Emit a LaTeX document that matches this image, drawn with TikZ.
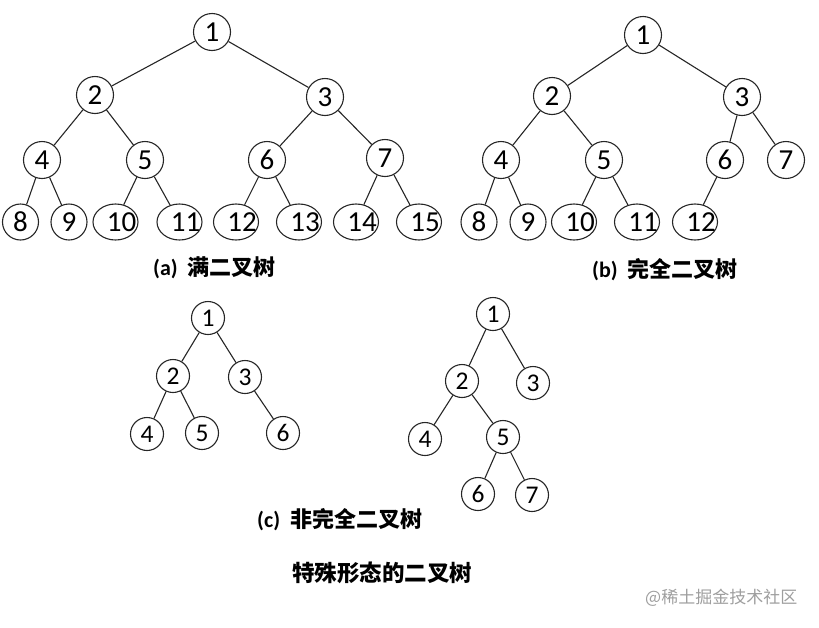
\documentclass[tikz,border=0pt]{standalone}
\usepackage{fontspec}
\setmainfont{Carlito}
\newfontfamily\cjkfont{Noto Sans CJK SC}
\usetikzlibrary{shapes.geometric}
\tikzset{
  edge/.style={draw=black!85, line width=1.1pt},
  big/.style={circle, draw=black!85, line width=1.1pt, minimum size=37pt, inner sep=0pt, font=\fontsize{29}{29}\selectfont},
  wide/.style={ellipse, draw=black!85, line width=1.1pt, minimum width=45pt, minimum height=36pt, inner sep=0pt,
    label={[font=\fontsize{29}{29}\selectfont, xshift=6pt]center:#1}},
  small/.style={circle, draw=black!85, line width=1.1pt, minimum size=33pt, inner sep=0pt, font=\fontsize{25.5}{25.5}\selectfont},
  captext/.style={anchor=west, inner sep=0pt, font=\fontsize{22}{22}\selectfont\bfseries},
}
\begin{document}
\begin{tikzpicture}[x=1pt, y=-1pt]
\useasboundingbox (0,0) rectangle (819,627);
% (a) full binary tree
\node[big] (a1) at (212,32) {1};
\node[big] (a2) at (95,95) {2};
\node[big] (a3) at (325,97) {3};
\node[big] (a4) at (42,160) {4};
\node[big] (a5) at (145,160) {5};
\node[big] (a6) at (267,160) {6};
\node[big] (a7) at (385,158) {7};
\node[big, minimum size=36pt] (a8) at (20.5,222) {8};
\node[big, minimum size=36pt] (a9) at (69,222) {9};
\node[wide=10] (a10) at (115.5,222) {};
\node[wide=11] (a11) at (179.5,222) {};
\node[wide=12] (a12) at (236,222) {};
\node[wide=13] (a13) at (299,222) {};
\node[wide=14] (a14) at (356,222) {};
\node[wide=15] (a15) at (419,222) {};
\draw[edge] (a1) -- (a2); \draw[edge] (a1) -- (a3);
\draw[edge] (a2) -- (a4); \draw[edge] (a2) -- (a5);
\draw[edge] (a3) -- (a6); \draw[edge] (a3) -- (a7);
\draw[edge] (a4) -- (a8); \draw[edge] (a4) -- (a9);
\draw[edge] (a5) -- (a10); \draw[edge] (a5) -- (a11);
\draw[edge] (a6) -- (a12); \draw[edge] (a6) -- (a13);
\draw[edge] (a7) -- (a14); \draw[edge] (a7) -- (a15);
\node[captext] (capa) at (153,268) {(a)\hspace{10pt}{\cjkfont 满二叉树}};
% (b) complete binary tree
\node[big] (b1) at (643,35) {1};
\node[big] (b2) at (552,96) {2};
\node[big] (b3) at (742,97) {3};
\node[big] (b4) at (501,160) {4};
\node[big] (b5) at (604,160) {5};
\node[big] (b6) at (725,160) {6};
\node[big] (b7) at (786,160) {7};
\node[big, minimum size=36pt] (b8) at (479,222) {8};
\node[big, minimum size=36pt] (b9) at (528,222) {9};
\node[wide=10] (b10) at (574,222) {};
\node[wide=11] (b11) at (637,222) {};
\node[wide=12] (b12) at (695,222) {};
\draw[edge] (b1) -- (b2); \draw[edge] (b1) -- (b3);
\draw[edge] (b2) -- (b4); \draw[edge] (b2) -- (b5);
\draw[edge] (b3) -- (b6); \draw[edge] (b3) -- (b7);
\draw[edge] (b4) -- (b8); \draw[edge] (b4) -- (b9);
\draw[edge] (b5) -- (b10); \draw[edge] (b5) -- (b11);
\draw[edge] (b6) -- (b12);
\node[captext] (capb) at (592,270) {(b)\hspace{10pt}{\cjkfont 完全二叉树}};
% (c) non-complete binary trees
\node[small] (c1) at (208,318) {1};
\node[small] (c2) at (173,376) {2};
\node[small] (c3) at (245,377) {3};
\node[small] (c4) at (147,434) {4};
\node[small] (c5) at (202,433) {5};
\node[small] (c6) at (283,433) {6};
\draw[edge] (c1) -- (c2); \draw[edge] (c1) -- (c3);
\draw[edge] (c2) -- (c4); \draw[edge] (c2) -- (c5);
\draw[edge] (c3) -- (c6);
\node[small] (d1) at (493,314) {1};
\node[small] (d2) at (462,381) {2};
\node[small] (d3) at (533,383) {3};
\node[small] (d4) at (425,439) {4};
\node[small] (d5) at (503,437) {5};
\node[small] (d6) at (478,494) {6};
\node[small] (d7) at (532,495) {7};
\draw[edge] (d1) -- (d2); \draw[edge] (d1) -- (d3);
\draw[edge] (d2) -- (d4); \draw[edge] (d2) -- (d5);
\draw[edge] (d5) -- (d6); \draw[edge] (d5) -- (d7);
\node[captext] (capc) at (257,520) {(c)\hspace{10pt}{\cjkfont 非完全二叉树}};
% title and watermark
\node[captext, font=\fontsize{22.5}{22.5}\selectfont\bfseries] (title) at (292,573) {\cjkfont 特殊形态的二叉树};
\node[anchor=west, inner sep=0pt, text=black!38, font=\fontsize{17}{17}\selectfont] (mark) at (645,598) {\cjkfont @稀土掘金技术社区};
\end{tikzpicture}
\end{document}
